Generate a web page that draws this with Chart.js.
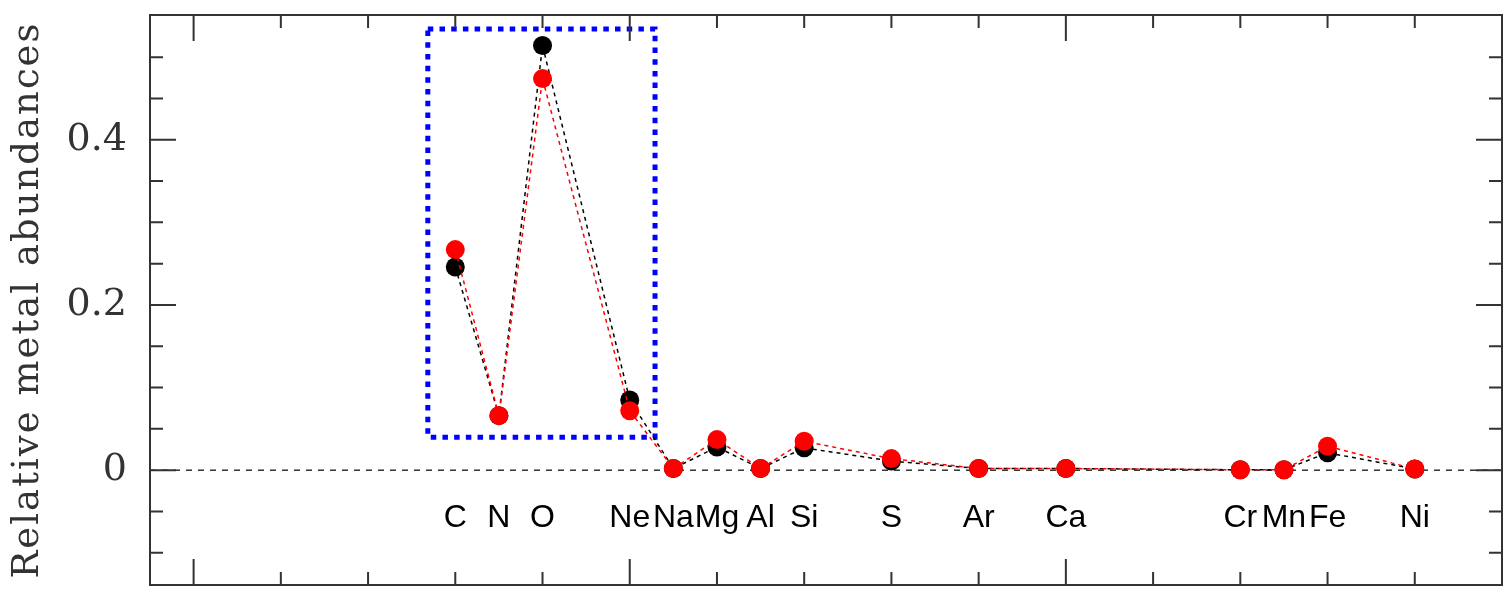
<!DOCTYPE html>
<html lang="en">
<head>
<meta charset="UTF-8">
<title>Relative metal abundances</title>
<script src="https://cdn.jsdelivr.net/npm/chart.js"></script>
<style>
  body { margin: 0; background: #fff; }
  canvas { display: block; }
</style>
</head>
<body>
<canvas id="abund" width="1508" height="591"></canvas>
<script>
// atomic number and symbol of each element
const atomicNumbers = [6, 7, 8, 10, 11, 12, 13, 14, 16, 18, 20, 24, 25, 26, 28];
const symbols = ['C', 'N', 'O', 'Ne', 'Na', 'Mg', 'Al', 'Si', 'S', 'Ar', 'Ca', 'Cr', 'Mn', 'Fe', 'Ni'];

// relative abundances, two models
const blackModel = [0.246, 0.066, 0.514, 0.085, 0.002, 0.028, 0.002, 0.027, 0.011, 0.002, 0.002, 0.0005, 0.0005, 0.021, 0.0015];
const redModel   = [0.267, 0.066, 0.474, 0.072, 0.002, 0.037, 0.002, 0.035, 0.014, 0.002, 0.002, 0.0005, 0.0005, 0.029, 0.0015];

// highlighted CNO-Ne group (Z, abundance corners)
const boxX = [5.37, 10.58, 10.58, 5.37, 5.37];
const boxY = [0.534, 0.534, 0.040, 0.040, 0.534];

const xRange = [-1, 30];
const yRange = [-0.139, 0.551];
const symbolRow = -0.058;

const toPoints = (xs, ys) => xs.map((x, i) => ({ x: x, y: ys[i] }));

// the markers never sit on the frame, so no extra room is needed for them
Chart.LineController.prototype.getMaxOverflow = function () { return 0; };

// frame, inward ticks, element symbols and y title
const framePlugin = {
    id: 'frame',
    afterDraw(chart) {
        const ctx = chart.ctx;
        const a = chart.chartArea;
        const xs = chart.scales.x, ys = chart.scales.y;
        ctx.save();
        ctx.strokeStyle = '#333';
        ctx.lineWidth = 2;
        ctx.strokeRect(a.left, a.top, a.right - a.left, a.bottom - a.top);

        ctx.beginPath();
        xs.ticks.forEach(t => {
            const px = xs.getPixelForValue(t.value);
            if (px < a.left + 2 || px > a.right - 2) return;
            const len = t.value % 10 === 0 ? 26 : 13;
            ctx.moveTo(px, a.bottom); ctx.lineTo(px, a.bottom - len);
            ctx.moveTo(px, a.top); ctx.lineTo(px, a.top + len);
        });
        ys.ticks.forEach(t => {
            const py = ys.getPixelForValue(t.value);
            if (py < a.top + 2 || py > a.bottom - 2) return;
            const r = t.value / 0.2;
            const len = Math.abs(r - Math.round(r)) < 1e-6 ? 26 : 13;
            ctx.moveTo(a.left, py); ctx.lineTo(a.left + len, py);
            ctx.moveTo(a.right, py); ctx.lineTo(a.right - len, py);
        });
        ctx.stroke();

        ctx.fillStyle = '#000';
        ctx.font = '32px "Liberation Sans", Arial, sans-serif';
        ctx.textAlign = 'center';
        ctx.textBaseline = 'middle';
        const rowY = ys.getPixelForValue(symbolRow);
        symbols.forEach((s, i) => {
            ctx.fillText(s, xs.getPixelForValue(atomicNumbers[i]), rowY);
        });

        ctx.translate(28, (a.top + a.bottom) / 2);
        ctx.rotate(-Math.PI / 2);
        ctx.font = '37px "DejaVu Serif", serif';
        ctx.letterSpacing = '2px';
        ctx.fillStyle = '#333';
        ctx.fillText('Relative metal abundances', 0, 0);
        ctx.restore();
    }
};

new Chart(document.getElementById('abund'), {
    type: 'line',
    data: {
        datasets: [
            {
                data: toPoints(xRange, [0, 0]),
                borderColor: '#000',
                borderWidth: 1.2,
                borderDash: [6, 6],
                pointRadius: 0,
                order: 4
            },
            {
                data: toPoints(boxX, boxY),
                borderColor: '#0000ff',
                borderWidth: 5,
                borderDash: [5.5, 6.2],
                borderCapStyle: 'butt',
                pointRadius: 0,
                order: 3
            },
            {
                data: toPoints(atomicNumbers, blackModel),
                borderColor: '#000',
                borderWidth: 1.5,
                borderDash: [4, 4],
                pointRadius: 9.5,
                pointBackgroundColor: '#000',
                pointBorderWidth: 0,
                order: 2
            },
            {
                data: toPoints(atomicNumbers, redModel),
                borderColor: '#ff0000',
                borderWidth: 1.5,
                borderDash: [4, 4],
                pointRadius: 9.5,
                pointBackgroundColor: '#ff0000',
                pointBorderWidth: 0,
                order: 1
            }
        ]
    },
    options: {
        responsive: false,
        animation: false,
        devicePixelRatio: 1,
        layout: { padding: { top: 15, right: 6, bottom: 0, left: 0 } },
        plugins: { legend: { display: false }, tooltip: { enabled: false } },
        scales: {
            x: {
                type: 'linear',
                min: xRange[0],
                max: xRange[1],
                grid: { display: false, drawTicks: false },
                border: { display: false },
                ticks: { display: false, stepSize: 2, includeBounds: false, autoSkip: false },
                afterFit(scale) {
                    scale.height = 6;
                    scale.paddingLeft = 0; scale.paddingRight = 0;
                }
            },
            y: {
                min: yRange[0],
                max: yRange[1],
                grid: { display: false, drawTicks: false },
                border: { display: false },
                ticks: {
                    stepSize: 0.05,
                    includeBounds: false,
                    autoSkip: false,
                    padding: 23,
                    color: '#333',
                    font: { family: '"DejaVu Serif", serif', size: 38 },
                    callback(v) {
                        const r = v / 0.2;
                        if (v < -1e-9 || Math.abs(r - Math.round(r)) > 1e-6) return '';
                        return Math.round(r) === 0 ? '0' : (Math.round(r) * 0.2).toFixed(1);
                    }
                },
                afterFit(scale) {
                    scale.width = 150;
                    scale.paddingTop = 0; scale.paddingBottom = 0;
                }
            }
        }
    },
    plugins: [framePlugin]
});
</script>
</body>
</html>
